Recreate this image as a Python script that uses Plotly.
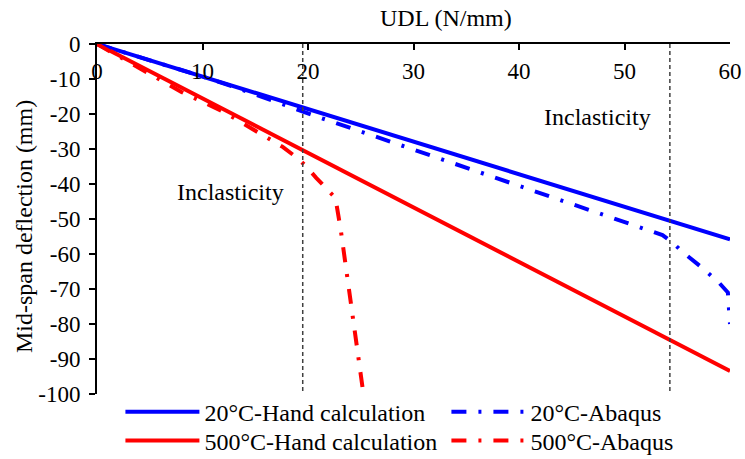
import plotly.graph_objects as go

# ---------------- data ----------------
hand_x = [0, 60]
hand20_y = [0, -55.8]
hand500_y = [0, -93.4]

abaqus20_x = [0, 5, 10, 13, 17, 19, 21.3, 25, 30, 35, 40, 45, 50, 53.6, 54.5, 55.5, 57.3, 58.9, 59.8, 60]
abaqus20_y = [0, -4.6, -9.3, -12.3, -16.6, -18.9, -21.2, -25.0, -30.2, -35.4, -40.6, -45.9, -51.0, -54.6, -56.6, -59.4, -63.8, -68.0, -71.0, -80.0]

abaqus500_x = [0, 4, 8, 12, 15.7, 17.6, 19, 19.7, 20.8, 21.9, 22.6, 23.1, 23.6, 24.1, 24.7, 25.3]
abaqus500_y = [0, -6.9, -13.7, -19.4, -26.0, -29.4, -32.6, -34.6, -38.3, -41.7, -44.0, -53.0, -64.0, -75.0, -88.0, -101.0]

boundary_x = [19.5, 54.3]
label_x = [12.7, 47.4]
label_y = [-42.3, -20.9]
label_text = ["Inclasticity", "Inclasticity"]

x_ticks = [0, 10, 20, 30, 40, 50, 60]
x_ticktext = ["0", "10", "20", "30", "40", "50", "60"]
y_ticks = [0, -10, -20, -30, -40, -50, -60, -70, -80, -90, -100]
y_ticktext = ["0", "-10", "-20", "-30", "-40", "-50", "-60", "-70", "-80", "-90", "-100"]

names = ["20°C-Hand calculation", "500°C-Hand calculation", "20°C-Abaqus", "500°C-Abaqus"]

FONT = "Liberation Serif"
DASHDOT = "15px,12px,3px,12px"

fig = go.Figure()

fig.add_trace(go.Scatter(x=hand_x, y=hand20_y, mode="lines", name=names[0],
                         line=dict(color="#0000FF", width=4), legend="legend"))
fig.add_trace(go.Scatter(x=hand_x, y=hand500_y, mode="lines", name=names[1],
                         line=dict(color="#FF0000", width=4), legend="legend2"))
fig.add_trace(go.Scatter(x=abaqus20_x, y=abaqus20_y, mode="lines", name=names[2],
                         line=dict(color="#0000FF", width=4, dash=DASHDOT), legend="legend3"))
fig.add_trace(go.Scatter(x=abaqus500_x, y=abaqus500_y, mode="lines", name=names[3],
                         line=dict(color="#FF0000", width=4, dash=DASHDOT), legend="legend4"))

for bx in boundary_x:
    fig.add_shape(type="line", xref="x", yref="y", x0=bx, x1=bx, y0=0, y1=-100,
                  line=dict(color="#404040", width=1.5, dash="4px,3px"))

for lx, ly, lt in zip(label_x, label_y, label_text):
    fig.add_annotation(x=lx, y=ly, xref="x", yref="y", text=lt, showarrow=False,
                       xanchor="center", yanchor="middle",
                       font=dict(family=FONT, size=24, color="#000000"))

fig.add_annotation(x=0.5513, y=1.074, xref="paper", yref="paper", text="UDL (N/mm)",
                   xanchor="center", yanchor="middle",
                   showarrow=False, font=dict(family=FONT, size=24, color="#000000"))
fig.add_annotation(x=-0.1153, y=0.477, xref="paper", yref="paper", text="Mid-span deflection (mm)",
                   xanchor="center", yanchor="middle",
                   textangle=-90, showarrow=False, font=dict(family=FONT, size=24, color="#000000"))

leg_common = dict(font=dict(family=FONT, size=24, color="#000000"), bgcolor="rgba(0,0,0,0)",
                  xanchor="left", yanchor="middle", itemwidth=74, borderwidth=0)
col1_x = 0.037
col2_x = 0.552
row1_y = -0.0515
row2_y = -0.134
fig.update_layout(
    legend=dict(x=col1_x, y=row1_y, **leg_common),
    legend2=dict(x=col1_x, y=row2_y, **leg_common),
    legend3=dict(x=col2_x, y=row1_y, **leg_common),
    legend4=dict(x=col2_x, y=row2_y, **leg_common),
)

fig.update_xaxes(range=[0, 60], side="top", showline=True, linecolor="#000000", linewidth=2,
                 ticks="inside", ticklen=6, tickwidth=1.5, tickcolor="#000000",
                 tickvals=x_ticks, ticktext=x_ticktext, ticklabelposition="inside",
                 ticklabeloverflow="allow", ticklabelstandoff=15, automargin=False,
                 tickfont=dict(family=FONT, size=23, color="#000000"),
                 showgrid=False, zeroline=False, mirror=False)
fig.update_yaxes(range=[-100, 0], showline=True, linecolor="#000000", linewidth=2,
                 ticks="outside", ticklen=6, tickwidth=1.5, tickcolor="#000000",
                 tickvals=y_ticks, ticktext=y_ticktext, ticklabelstandoff=4, automargin=False,
                 tickfont=dict(family=FONT, size=23, color="#000000"),
                 showgrid=False, zeroline=False)

fig.update_layout(width=745, height=459,
                  margin=dict(l=97, r=15, t=44, b=65, autoexpand=False),
                  font=dict(family=FONT),
                  plot_bgcolor="#FFFFFF", paper_bgcolor="#FFFFFF", showlegend=True)

fig.write_html("out.html", config={"displayModeBar": False},
               post_script="document.body.style.margin='0px';document.documentElement.style.overflow='hidden';")
